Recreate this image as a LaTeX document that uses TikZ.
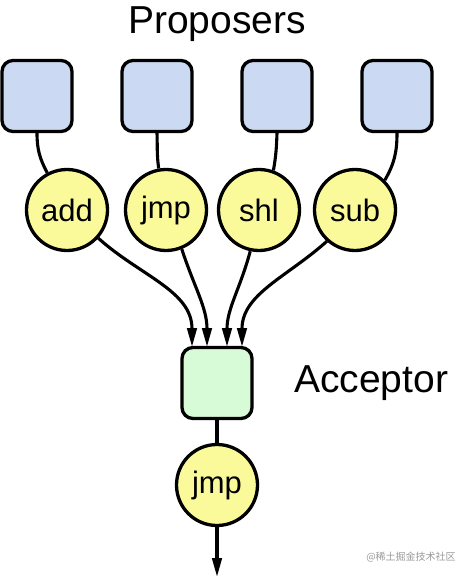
\documentclass[tikz,border=0pt]{standalone}
\usepackage{fontspec}
\setmainfont{Liberation Sans}
\newfontfamily\cjkwm{Noto Sans CJK SC}
\usetikzlibrary{arrows.meta}
\definecolor{propblue}{RGB}{204,217,242}
\definecolor{valyellow}{RGB}{250,250,155}
\definecolor{accgreen}{RGB}{214,251,214}
\tikzset{
  procbox/.style={draw=black, line width=3.3pt, rounded corners=11pt, minimum width=70pt, minimum height=71pt, inner sep=0pt},
  valcirc/.style={circle, draw=black, line width=3.3pt, fill=valyellow, minimum size=81pt, inner sep=0pt, font=\fontsize{31}{33}\selectfont},
  conn/.style={line width=3.1pt},
  arr/.style={line width=3.1pt, -{Stealth[length=19pt, width=9.5pt, inset=0pt]}},
  title/.style={font=\fontsize{39}{42}\selectfont, inner sep=0pt}
}
\begin{document}
\begin{tikzpicture}[x=1pt, y=-1pt]
\useasboundingbox (0,0) rectangle (470,578);
\node[title] (prop) at (217,24) {Proposers};
\node[procbox, fill=propblue] (b1) at (37,96) {};
\node[procbox, fill=propblue] (b2) at (157,96) {};
\node[procbox, fill=propblue] (b3) at (277,96) {};
\node[procbox, fill=propblue] (b4) at (397,96) {};
\node[valcirc] (add) at (67,210) {add};
\node[valcirc] (jmp) at (166,210) {jmp};
\node[valcirc] (shl) at (259,210) {shl};
\node[valcirc] (sub) at (355,210) {sub};
\node[procbox, fill=accgreen] (acc) at (217,383) {};
\node[title, anchor=west] (acclbl) at (294,383) {Acceptor};
\node[valcirc] (out) at (217,485) {jmp};
\coordinate (a1) at (192,347);
\coordinate (a2) at (207,347);
\coordinate (a3) at (227,347);
\coordinate (a4) at (242,347);
\coordinate (end) at (217,577);
\draw[conn] (b1.south) to[out=-90, in=118] (add.118);
\draw[conn] (b2.south) to[out=-88, in=98] (jmp.100);
\draw[conn] (b3.south) to[out=-92, in=80] (shl.70);
\draw[conn] (b4.south) to[out=-90, in=60] (sub.45);
\draw[arr] (add.-42) to[out=-42, in=90] (a1);
\draw[arr] (jmp.-68) to[out=-72, in=90] (a2);
\draw[arr] (shl.-102) to[out=-105, in=90] (a3);
\draw[arr] (sub.-132) to[out=-138, in=90] (a4);
\draw[conn] (acc.south) -- (out.north);
\draw[arr] (out.south) -- (end);
\node[font=\cjkwm\fontsize{10}{11}\selectfont, text=black!40, inner sep=0pt] (wm) at (411,557) {@稀土掘金技术社区};
\end{tikzpicture}
\end{document}
